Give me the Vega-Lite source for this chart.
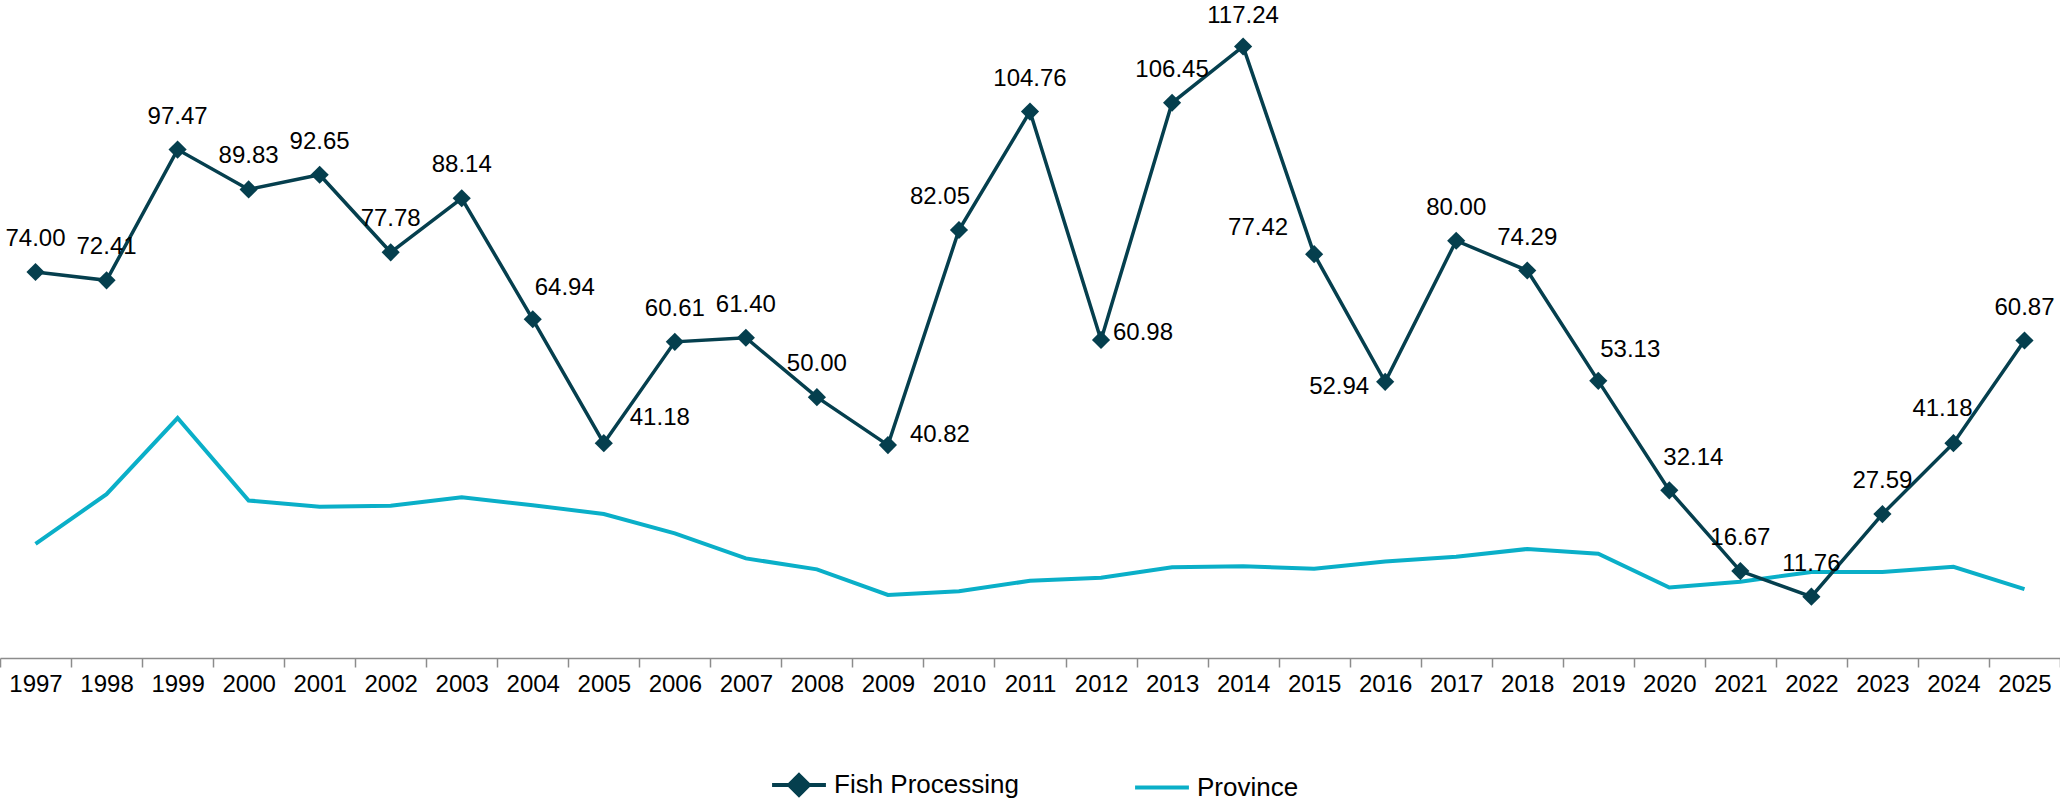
{
  "$schema": "https://vega.github.io/schema/vega-lite/v6.json",
  "width": 2060,
  "height": 652,
  "autosize": {"type": "none"},
  "padding": {"left": 0, "right": 0, "top": 6, "bottom": 145},
  "background": "#ffffff",
  "config": {"view": {"stroke": null}, "font": "Liberation Sans"},
  "data": {"values": [
    {"year": "1997", "series": "Fish Processing", "value": 74.00},
    {"year": "1998", "series": "Fish Processing", "value": 72.41},
    {"year": "1999", "series": "Fish Processing", "value": 97.47},
    {"year": "2000", "series": "Fish Processing", "value": 89.83},
    {"year": "2001", "series": "Fish Processing", "value": 92.65},
    {"year": "2002", "series": "Fish Processing", "value": 77.78},
    {"year": "2003", "series": "Fish Processing", "value": 88.14},
    {"year": "2004", "series": "Fish Processing", "value": 64.94},
    {"year": "2005", "series": "Fish Processing", "value": 41.18},
    {"year": "2006", "series": "Fish Processing", "value": 60.61},
    {"year": "2007", "series": "Fish Processing", "value": 61.40},
    {"year": "2008", "series": "Fish Processing", "value": 50.00},
    {"year": "2009", "series": "Fish Processing", "value": 40.82},
    {"year": "2010", "series": "Fish Processing", "value": 82.05},
    {"year": "2011", "series": "Fish Processing", "value": 104.76},
    {"year": "2012", "series": "Fish Processing", "value": 60.98},
    {"year": "2013", "series": "Fish Processing", "value": 106.45},
    {"year": "2014", "series": "Fish Processing", "value": 117.24},
    {"year": "2015", "series": "Fish Processing", "value": 77.42},
    {"year": "2016", "series": "Fish Processing", "value": 52.94},
    {"year": "2017", "series": "Fish Processing", "value": 80.00},
    {"year": "2018", "series": "Fish Processing", "value": 74.29},
    {"year": "2019", "series": "Fish Processing", "value": 53.13},
    {"year": "2020", "series": "Fish Processing", "value": 32.14},
    {"year": "2021", "series": "Fish Processing", "value": 16.67},
    {"year": "2022", "series": "Fish Processing", "value": 11.76},
    {"year": "2023", "series": "Fish Processing", "value": 27.59},
    {"year": "2024", "series": "Fish Processing", "value": 41.18},
    {"year": "2025", "series": "Fish Processing", "value": 60.87},
    {"year": "1997", "series": "Province", "value": 21.9},
    {"year": "1998", "series": "Province", "value": 31.4},
    {"year": "1999", "series": "Province", "value": 46.0},
    {"year": "2000", "series": "Province", "value": 30.2},
    {"year": "2001", "series": "Province", "value": 29.0},
    {"year": "2002", "series": "Province", "value": 29.2},
    {"year": "2003", "series": "Province", "value": 30.8},
    {"year": "2004", "series": "Province", "value": 29.3},
    {"year": "2005", "series": "Province", "value": 27.6},
    {"year": "2006", "series": "Province", "value": 23.9},
    {"year": "2007", "series": "Province", "value": 19.1},
    {"year": "2008", "series": "Province", "value": 17.0},
    {"year": "2009", "series": "Province", "value": 12.1},
    {"year": "2010", "series": "Province", "value": 12.8},
    {"year": "2011", "series": "Province", "value": 14.8},
    {"year": "2012", "series": "Province", "value": 15.4},
    {"year": "2013", "series": "Province", "value": 17.4},
    {"year": "2014", "series": "Province", "value": 17.6},
    {"year": "2015", "series": "Province", "value": 17.1},
    {"year": "2016", "series": "Province", "value": 18.5},
    {"year": "2017", "series": "Province", "value": 19.4},
    {"year": "2018", "series": "Province", "value": 20.9},
    {"year": "2019", "series": "Province", "value": 20.0},
    {"year": "2020", "series": "Province", "value": 13.5},
    {"year": "2021", "series": "Province", "value": 14.6},
    {"year": "2022", "series": "Province", "value": 16.5},
    {"year": "2023", "series": "Province", "value": 16.5},
    {"year": "2024", "series": "Province", "value": 17.5},
    {"year": "2025", "series": "Province", "value": 13.2}
  ]},
  "encoding": {
    "x": {
      "field": "year", "type": "ordinal", "bandPosition": 0.5,
      "scale": {"type": "band", "paddingInner": 0, "paddingOuter": 0},
      "axis": {"title": null, "labelAngle": 0, "labelFont": "Liberation Sans", "labelFontSize": 24, "labelColor": "#000000",
               "tickBand": "extent", "tickSize": 9, "tickColor": "#8c8c8c", "tickWidth": 1.5,
               "domainColor": "#8c8c8c", "domainWidth": 1.5, "labelPadding": 5, "grid": false}
    },
    "y": {"field": "value", "type": "quantitative", "scale": {"domain": [0, 125]}, "axis": null}
  },
  "layer": [
    {
      "transform": [{"filter": "datum.series === 'Province'"}],
      "mark": {"type": "line", "strokeWidth": 4},
      "encoding": {
        "color": {"field": "series", "type": "nominal",
          "scale": {"domain": ["Fish Processing", "Province"], "range": ["#053f4e", "#0aafc8"]},
          "legend": {"orient": "none", "legendX": 770, "legendY": 750, "direction": "horizontal", "title": null,
            "labelFont": "Liberation Sans", "labelFontSize": 26, "labelColor": "#000000", "labelLimit": 0,
            "symbolSize": 2900, "symbolStrokeWidth": 4, "columnPadding": 108, "labelOffset": 6, "padding": 0,
            "symbolType": "stroke",
            "encode": {"symbols": {"update": {
              "shape": {"signal": "datum.value === 'Fish Processing' ? 'M-1,0H1M0,-0.37L0.37,0L0,0.37L-0.37,0Z' : 'M-1,0H1'"},
              "fill": {"scale": "color", "field": "value"},
              "stroke": {"scale": "color", "field": "value"}
            }}}
          }
        }
      }
    },
    {
      "transform": [{"filter": "datum.series === 'Fish Processing'"}],
      "mark": {"type": "line", "strokeWidth": 3.5},
      "encoding": {"color": {"field": "series", "type": "nominal"}}
    },
    {
      "transform": [{"filter": "datum.series === 'Fish Processing'"}],
      "mark": {"type": "point", "shape": "diamond", "filled": true, "size": 330, "opacity": 1, "color": "#053f4e"}
    },
    {
      "transform": [{"filter": "datum.series === 'Fish Processing'"}, {"filter": {"not": {"field": "year", "oneOf": ["2004", "2005", "2009", "2010", "2012", "2014", "2015", "2016", "2019", "2020", "2024"]}}}],
      "mark": {"type": "text", "fontSize": 24, "font": "Liberation Sans", "color": "#000000", "dy": -33},
      "encoding": {"text": {"field": "value", "type": "quantitative", "format": ".2f"}}
    },
    {
      "transform": [{"filter": "datum.series === 'Fish Processing'"}, {"filter": {"field": "year", "oneOf": ["2014"]}}],
      "mark": {"type": "text", "fontSize": 24, "font": "Liberation Sans", "color": "#000000", "dy": -30},
      "encoding": {"text": {"field": "value", "type": "quantitative", "format": ".2f"}}
    },
    {
      "transform": [{"filter": "datum.series === 'Fish Processing'"}, {"filter": {"field": "year", "oneOf": ["2004", "2019"]}}],
      "mark": {"type": "text", "fontSize": 24, "font": "Liberation Sans", "color": "#000000", "dx": 32, "dy": -31},
      "encoding": {"text": {"field": "value", "type": "quantitative", "format": ".2f"}}
    },
    {
      "transform": [{"filter": "datum.series === 'Fish Processing'"}, {"filter": {"field": "year", "oneOf": ["2020"]}}],
      "mark": {"type": "text", "fontSize": 24, "font": "Liberation Sans", "color": "#000000", "dx": 24, "dy": -32},
      "encoding": {"text": {"field": "value", "type": "quantitative", "format": ".2f"}}
    },
    {
      "transform": [{"filter": "datum.series === 'Fish Processing'"}, {"filter": {"field": "year", "oneOf": ["2005"]}}],
      "mark": {"type": "text", "fontSize": 24, "font": "Liberation Sans", "color": "#000000", "dx": 56, "dy": -25},
      "encoding": {"text": {"field": "value", "type": "quantitative", "format": ".2f"}}
    },
    {
      "transform": [{"filter": "datum.series === 'Fish Processing'"}, {"filter": {"field": "year", "oneOf": ["2009"]}}],
      "mark": {"type": "text", "fontSize": 24, "font": "Liberation Sans", "color": "#000000", "dx": 52, "dy": -10},
      "encoding": {"text": {"field": "value", "type": "quantitative", "format": ".2f"}}
    },
    {
      "transform": [{"filter": "datum.series === 'Fish Processing'"}, {"filter": {"field": "year", "oneOf": ["2012"]}}],
      "mark": {"type": "text", "fontSize": 24, "font": "Liberation Sans", "color": "#000000", "dx": 42, "dy": -7},
      "encoding": {"text": {"field": "value", "type": "quantitative", "format": ".2f"}}
    },
    {
      "transform": [{"filter": "datum.series === 'Fish Processing'"}, {"filter": {"field": "year", "oneOf": ["2010"]}}],
      "mark": {"type": "text", "fontSize": 24, "font": "Liberation Sans", "color": "#000000", "dx": -19, "dy": -33},
      "encoding": {"text": {"field": "value", "type": "quantitative", "format": ".2f"}}
    },
    {
      "transform": [{"filter": "datum.series === 'Fish Processing'"}, {"filter": {"field": "year", "oneOf": ["2024"]}}],
      "mark": {"type": "text", "fontSize": 24, "font": "Liberation Sans", "color": "#000000", "dx": -11, "dy": -34},
      "encoding": {"text": {"field": "value", "type": "quantitative", "format": ".2f"}}
    },
    {
      "transform": [{"filter": "datum.series === 'Fish Processing'"}, {"filter": {"field": "year", "oneOf": ["2015"]}}],
      "mark": {"type": "text", "fontSize": 24, "font": "Liberation Sans", "color": "#000000", "dx": -56, "dy": -26},
      "encoding": {"text": {"field": "value", "type": "quantitative", "format": ".2f"}}
    },
    {
      "transform": [{"filter": "datum.series === 'Fish Processing'"}, {"filter": {"field": "year", "oneOf": ["2016"]}}],
      "mark": {"type": "text", "fontSize": 24, "font": "Liberation Sans", "color": "#000000", "dx": -46, "dy": 5},
      "encoding": {"text": {"field": "value", "type": "quantitative", "format": ".2f"}}
    }
  ]
}
